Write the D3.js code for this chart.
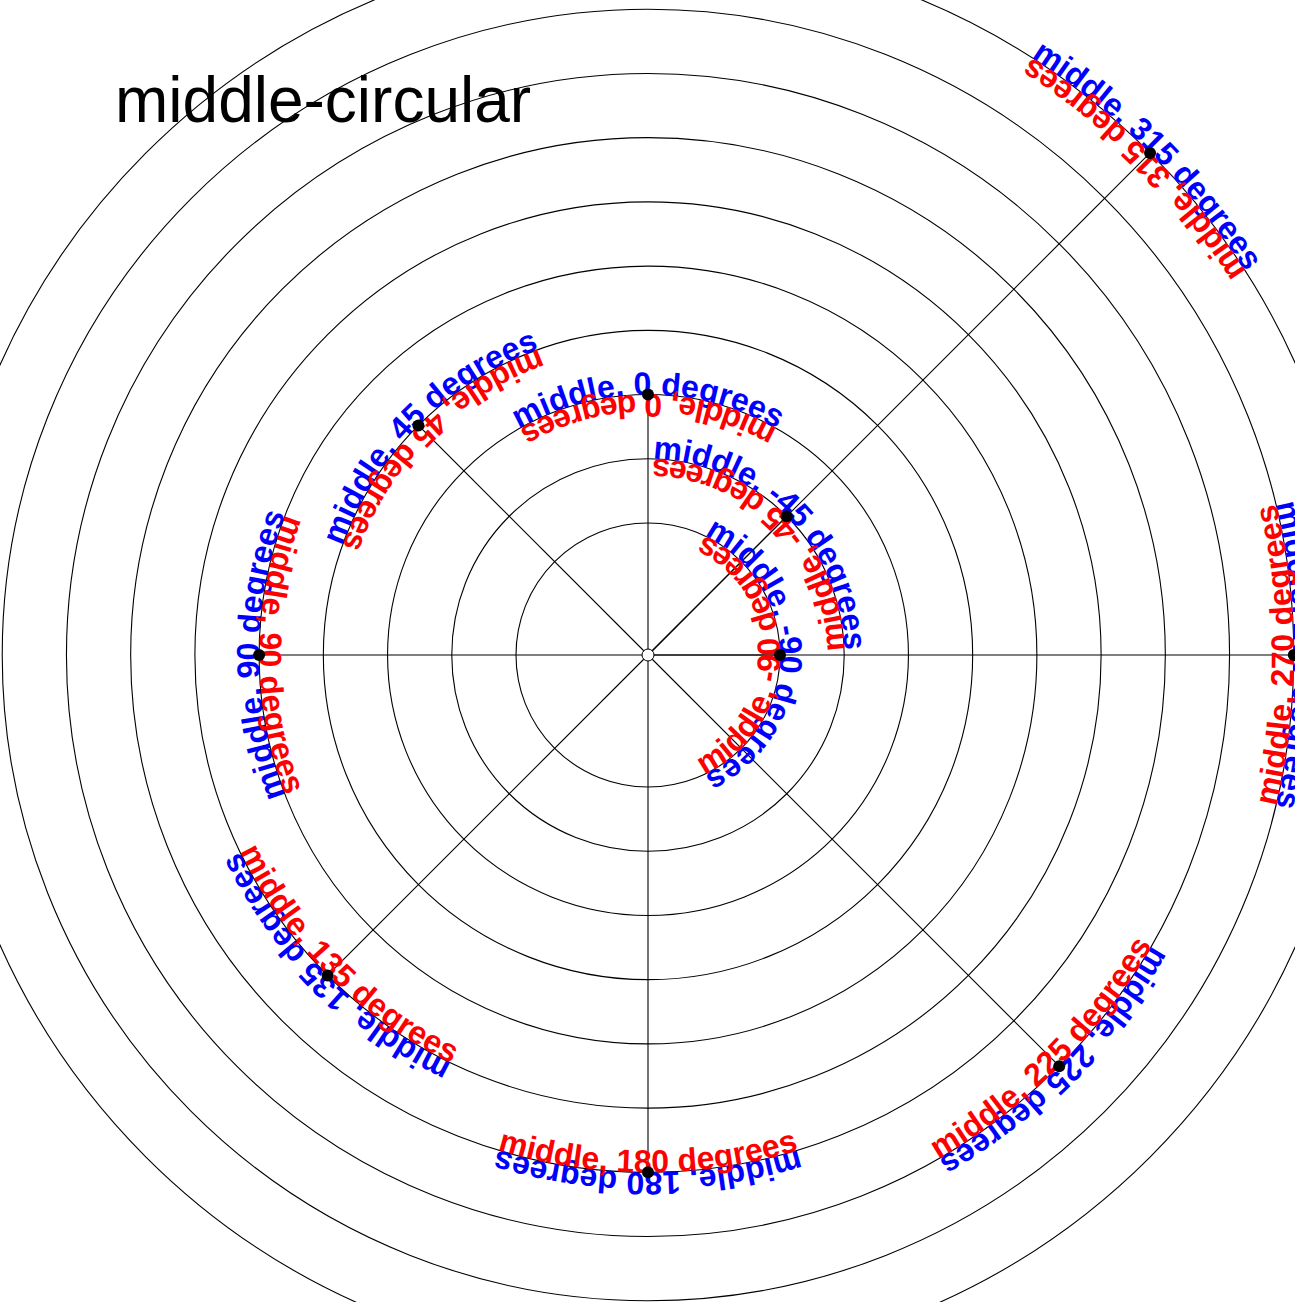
<!DOCTYPE html>
<html lang="en">
<head>
<meta charset="UTF-8">
<title>middle-circular</title>
<script src="https://d3js.org/d3.v7.min.js"></script>
<style>
  body { margin: 0; background: #fff; }
  .label { font: bold 32px "Liberation Sans", Arial, sans-serif; }
  .title { font: 64px "Liberation Sans", Arial, sans-serif; }
</style>
</head>
<body>
<div id="chart"></div>
<script>
var width = 1295, height = 1302;
var cx = 648, cy = 655;

// angle of each point (degrees, counter-clockwise from north) and its ring
var angles = [-90, -45, 0, 45, 90, 135, 180, 225, 270, 315];
var rings = [1, 2, 3, 4, 5, 6, 7, 8, 9, 10];
var gridRings = [1, 2, 3, 4, 5, 6, 7, 8, 9, 10];
var anchorName = "middle";

var r = d3.scaleLinear().domain([1, 10]).range([132, 710]);

var svg = d3.select("#chart").append("svg")
    .attr("width", width)
    .attr("height", height);

var data = angles.map(function(a, i) {
  return { angle: a, ring: rings[i], text: anchorName + ", " + a + " degrees" };
});

// screen angle for d3.path (clockwise from +x)
function screenAngle(deg) { return -Math.PI / 2 - deg * Math.PI / 180; }
function px(d) { return cx + r(d.ring) * Math.cos(screenAngle(d.angle)); }
function py(d) { return cy + r(d.ring) * Math.sin(screenAngle(d.angle)); }

svg.append("g").selectAll("circle")
    .data(gridRings)
  .enter().append("circle")
    .attr("cx", cx)
    .attr("cy", cy)
    .attr("r", function(d) { return r(d); })
    .attr("fill", "none")
    .attr("stroke", "#000")
    .attr("stroke-width", 1.1);

svg.append("g").selectAll("line")
    .data(data)
  .enter().append("line")
    .attr("x1", cx)
    .attr("y1", cy)
    .attr("x2", px)
    .attr("y2", py)
    .attr("stroke", "#000")
    .attr("stroke-width", 1.1);

var defs = svg.append("defs");

function circlePath(d, ccw) {
  var a = screenAngle(d.angle), p = d3.path();
  if (ccw) p.arc(cx, cy, r(d.ring), a + Math.PI, a - Math.PI, true);
  else p.arc(cx, cy, r(d.ring), a - Math.PI, a + Math.PI, false);
  return p.toString();
}

defs.selectAll("path.cw")
    .data(data)
  .enter().append("path")
    .attr("id", function(d, i) { return "cw-" + i; })
    .attr("d", function(d) { return circlePath(d, false); });

defs.selectAll("path.ccw")
    .data(data)
  .enter().append("path")
    .attr("id", function(d, i) { return "ccw-" + i; })
    .attr("d", function(d) { return circlePath(d, true); });

var labels = svg.append("g");

labels.selectAll("text.blue")
    .data(data)
  .enter().append("text")
    .attr("class", "label")
    .attr("fill", "#0000ff")
  .append("textPath")
    .attr("href", function(d, i) { return "#cw-" + i; })
    .attr("startOffset", "50%")
    .attr("text-anchor", "middle")
    .text(function(d) { return d.text; });

labels.selectAll("text.red")
    .data(data)
  .enter().append("text")
    .attr("class", "label")
    .attr("fill", "#ff0000")
  .append("textPath")
    .attr("href", function(d, i) { return "#ccw-" + i; })
    .attr("startOffset", "50%")
    .attr("text-anchor", "middle")
    .text(function(d) { return d.text; });

svg.append("g").selectAll("circle")
    .data(data)
  .enter().append("circle")
    .attr("cx", px)
    .attr("cy", py)
    .attr("r", 6)
    .attr("fill", "#000");

svg.append("circle")
    .attr("cx", cx)
    .attr("cy", cy)
    .attr("r", 6)
    .attr("fill", "#fff")
    .attr("stroke", "#000")
    .attr("stroke-width", 1);

svg.append("text")
    .attr("class", "title")
    .attr("x", 115)
    .attr("y", 122)
    .attr("fill", "#000")
    .text("middle-circular");
</script>
</body>
</html>
